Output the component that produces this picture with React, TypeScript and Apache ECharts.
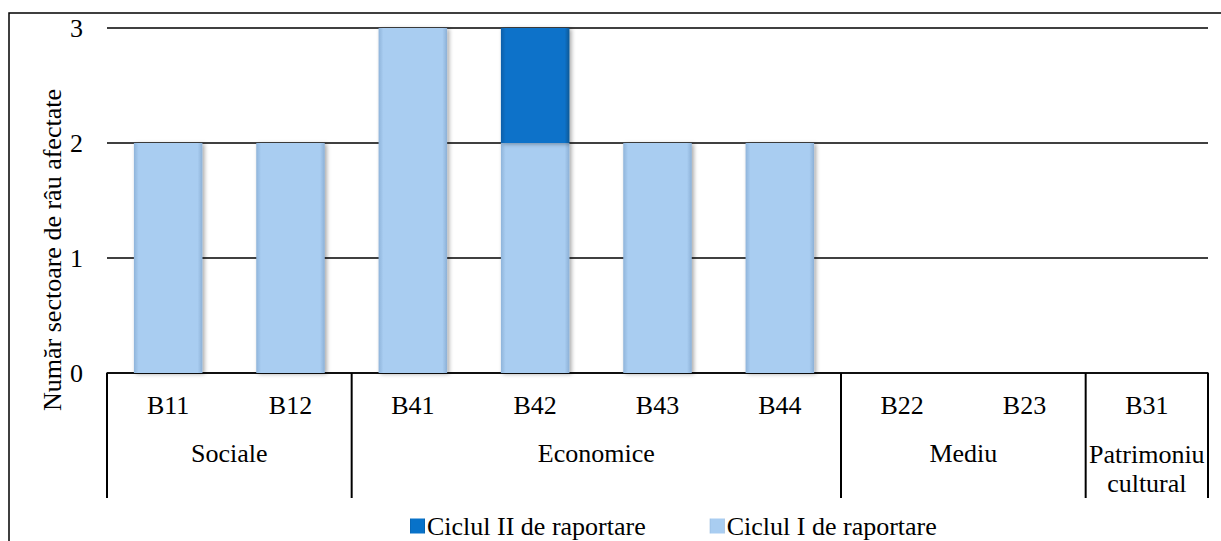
import React, { useEffect, useRef } from "react";
import * as echarts from "echarts";

const categories = ["B11", "B12", "B41", "B42", "B43", "B44", "B22", "B23", "B31"];
const cycle1 = [2, 2, 3, 2, 2, 2, 0, 0, 0];
const cycle2 = [0, 0, 0, 1, 0, 0, 0, 0, 0];
const groups = [
  { name: "Sociale", start: 0, count: 2 },
  { name: "Economice", start: 2, count: 4 },
  { name: "Mediu", start: 6, count: 2 },
  { name: "Patrimoniu\ncultural", start: 8, count: 1 },
];
const yTicks = { min: 0, max: 3, interval: 1 };
const seriesNames = ["Ciclul I de raportare", "Ciclul II de raportare"];
const yTitle = "Număr sectoare de râu afectate";

const FONT = "Liberation Serif";
const FS = 26;

const lightGrad = new echarts.graphic.LinearGradient(0, 0, 1, 0, [
  { offset: 0, color: "#8fb4da" },
  { offset: 0.07, color: "#a9cdf1" },
  { offset: 0.93, color: "#a9cdf1" },
  { offset: 1, color: "#8cb0d6" },
]);
const darkGrad = new echarts.graphic.LinearGradient(0, 0, 1, 0, [
  { offset: 0, color: "#0a5fa8" },
  { offset: 0.07, color: "#0872c9" },
  { offset: 0.93, color: "#0872c9" },
  { offset: 1, color: "#075896" },
]);

export default function App() {
  const ref = useRef<HTMLDivElement>(null);
  useEffect(() => {
    if (!ref.current) return;
    const chart = echarts.init(ref.current, null, { renderer: "svg" });
    const shadow = {
      shadowColor: "rgba(0,0,0,0.35)",
      shadowBlur: 4,
      shadowOffsetX: 2,
      shadowOffsetY: 1,
    };
    chart.setOption({
      animation: false,
      backgroundColor: "#fff",
      textStyle: { fontFamily: FONT, color: "#000" },
      grid: { left: 107, right: 13, top: 28, bottom: 168, containLabel: false },
      legend: {
        data: [seriesNames[1], seriesNames[0]],
        left: 405,
        top: 508,
        itemWidth: 15,
        itemHeight: 15,
        itemGap: 64,
        icon: "rect",
        textStyle: { fontFamily: FONT, fontSize: FS, color: "#000", padding: [0, 0, 0, -3] },
      },
      xAxis: {
        type: "category",
        data: categories,
        axisLine: { show: true, lineStyle: { color: "#000", width: 1.5 } },
        axisTick: { show: false },
        axisLabel: { fontFamily: FONT, fontSize: FS, lineHeight: FS, color: "#000", margin: 19 },
      },
      yAxis: {
        type: "value",
        min: yTicks.min,
        max: yTicks.max,
        interval: yTicks.interval,
        axisLine: { show: false },
        axisTick: { show: false },
        axisLabel: { fontFamily: FONT, fontSize: FS, color: "#000", margin: 24 },
        splitLine: { lineStyle: { color: "#000", width: 1.5 } },
      },
      series: [
        {
          name: seriesNames[0],
          type: "bar",
          stack: "a",
          barWidth: "56%",
          data: cycle1.map((v) => (v === 0 ? null : v)),
          itemStyle: { color: lightGrad, ...shadow },
        },
        {
          name: seriesNames[1],
          type: "bar",
          stack: "a",
          barWidth: "56%",
          data: cycle2.map((v) => (v === 0 ? null : v)),
          itemStyle: { color: darkGrad, ...shadow },
        },
      ],
    });

    const c0 = chart.convertToPixel({ xAxisIndex: 0 }, categories[0]) as number;
    const c1 = chart.convertToPixel({ xAxisIndex: 0 }, categories[1]) as number;
    const band = c1 - c0;
    const y0 = chart.convertToPixel({ yAxisIndex: 0 }, 0) as number;
    const boundary = (i: number) => c0 - band / 2 + i * band;
    const els: any[] = [
      {
        type: "rect",
        shape: { x: 9, y: 13, width: 1230, height: 560 },
        style: { fill: "none", stroke: "#000", lineWidth: 1.5 },
        silent: true,
      },
      {
        type: "text",
        x: 52,
        y: 250,
        rotation: Math.PI / 2,
        style: {
          text: yTitle,
          fontFamily: FONT,
          fontSize: FS,
          fill: "#000",
          align: "center",
          verticalAlign: "middle",
        },
      },
    ];
    const bounds = new Set<number>();
    groups.forEach((g) => {
      bounds.add(g.start);
      bounds.add(g.start + g.count);
      const cx = (boundary(g.start) + boundary(g.start + g.count)) / 2;
      els.push({
        type: "text",
        x: cx,
        y: g.count === 1 ? y0 + 96 : y0 + 80,
        style: {
          text: g.name,
          fontFamily: FONT,
          fontSize: FS,
          fill: "#000",
          align: "center",
          verticalAlign: "middle",
          lineHeight: 29,
        },
      });
    });
    bounds.forEach((i) => {
      const x = boundary(i);
      els.push({
        type: "line",
        shape: { x1: x, y1: y0, x2: x, y2: y0 + 125 },
        style: { stroke: "#000", lineWidth: 2 },
        silent: true,
      });
    });
    chart.setOption({ graphic: els });
    return () => chart.dispose();
  }, []);
  return (
    <div
      ref={ref}
      style={{ position: "absolute", left: 0, top: 0, width: 1221, height: 541 }}
    />
  );
}
